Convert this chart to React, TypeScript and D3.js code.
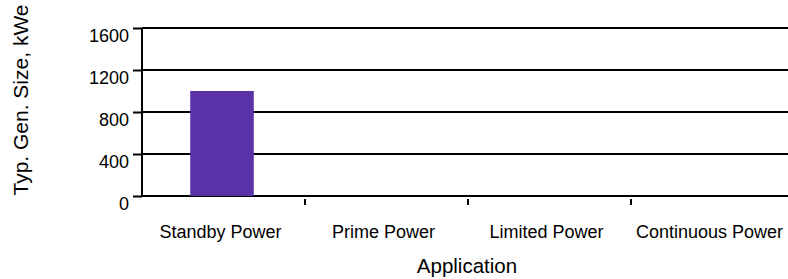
import React, { useRef, useEffect } from 'react';
import * as d3 from 'd3';

const categories = ['Standby Power', 'Prime Power', 'Limited Power', 'Continuous Power'];
const genSize = [1000, 0, 0, 0];
const yTicks = [0, 400, 800, 1200, 1600];

const W = 788;
const H = 279;
const FONT = '"Liberation Sans", Arial, sans-serif';

export default function App() {
  const ref = useRef<SVGSVGElement | null>(null);

  useEffect(() => {
    if (!ref.current) return;
    const svg = d3.select(ref.current);
    svg.selectAll('*').remove();

    const margin = { top: 28, right: -6, bottom: 83, left: 142 };

    const x = d3.scaleBand<string>().domain(categories).range([margin.left, W - margin.right]);
    const y = d3.scaleLinear().domain([0, 1600]).range([H - margin.bottom, margin.top]);

    // horizontal grid lines
    svg.append('g')
      .selectAll('line')
      .data(yTicks)
      .join('line')
      .attr('x1', margin.left)
      .attr('x2', W)
      .attr('y1', d => y(d))
      .attr('y2', d => y(d))
      .attr('stroke', '#000')
      .attr('stroke-width', 2);

    // bars
    const barW = x.bandwidth() * 0.39;
    svg.append('g')
      .selectAll('rect')
      .data(categories.map((c, i) => ({ c, v: genSize[i] })).filter(d => d.v > 0))
      .join('rect')
      .attr('x', d => (x(d.c) as number) + x.bandwidth() / 2 - barW / 2 - 1.5)
      .attr('y', d => y(d.v))
      .attr('width', barW)
      .attr('height', d => y(0) - y(d.v))
      .attr('fill', '#5932a8');

    // y axis
    const yAxis = svg.append('g')
      .attr('transform', `translate(${margin.left},0)`)
      .call(d3.axisLeft(y).tickValues(yTicks).tickSize(9).tickPadding(4).tickFormat(d3.format('d')));
    yAxis.select('.domain').attr('stroke-width', 2).attr('d', `M0,${y(1600)}V${y(0)}`);
    yAxis.selectAll('.tick line').attr('stroke-width', 2);
    yAxis.selectAll('.tick text')
      .attr('font-family', FONT)
      .attr('font-size', 18)
      .attr('fill', '#000')
      .attr('dy', 13);

    // x axis: ticks at category boundaries
    svg.append('g')
      .selectAll('line')
      .data(categories.slice(1))
      .join('line')
      .attr('x1', d => x(d) as number)
      .attr('x2', d => x(d) as number)
      .attr('y1', y(0) + 3)
      .attr('y2', y(0) + 9)
      .attr('stroke', '#000')
      .attr('stroke-width', 2);

    svg.append('g')
      .selectAll('text')
      .data(categories)
      .join('text')
      .attr('x', d => (x(d) as number) + x.bandwidth() / 2 - 3)
      .attr('y', y(0) + 42)
      .attr('text-anchor', 'middle')
      .attr('font-family', FONT)
      .attr('font-size', 18)
      .text(d => d);

    svg.append('text')
      .attr('x', 467)
      .attr('y', 273)
      .attr('text-anchor', 'middle')
      .attr('font-family', FONT)
      .attr('font-size', 20.5)
      .text('Application');

    svg.append('text')
      .attr('transform', `translate(28,100) rotate(-90)`)
      .attr('text-anchor', 'middle')
      .attr('font-family', FONT)
      .attr('font-size', 21)
      .text('Typ. Gen. Size, kWe');
  }, []);

  return (
    <div style={{ position: 'fixed', left: 0, top: 0 }}>
      <svg ref={ref} width={W} height={H} style={{ display: 'block', background: '#fff' }} />
    </div>
  );
}
